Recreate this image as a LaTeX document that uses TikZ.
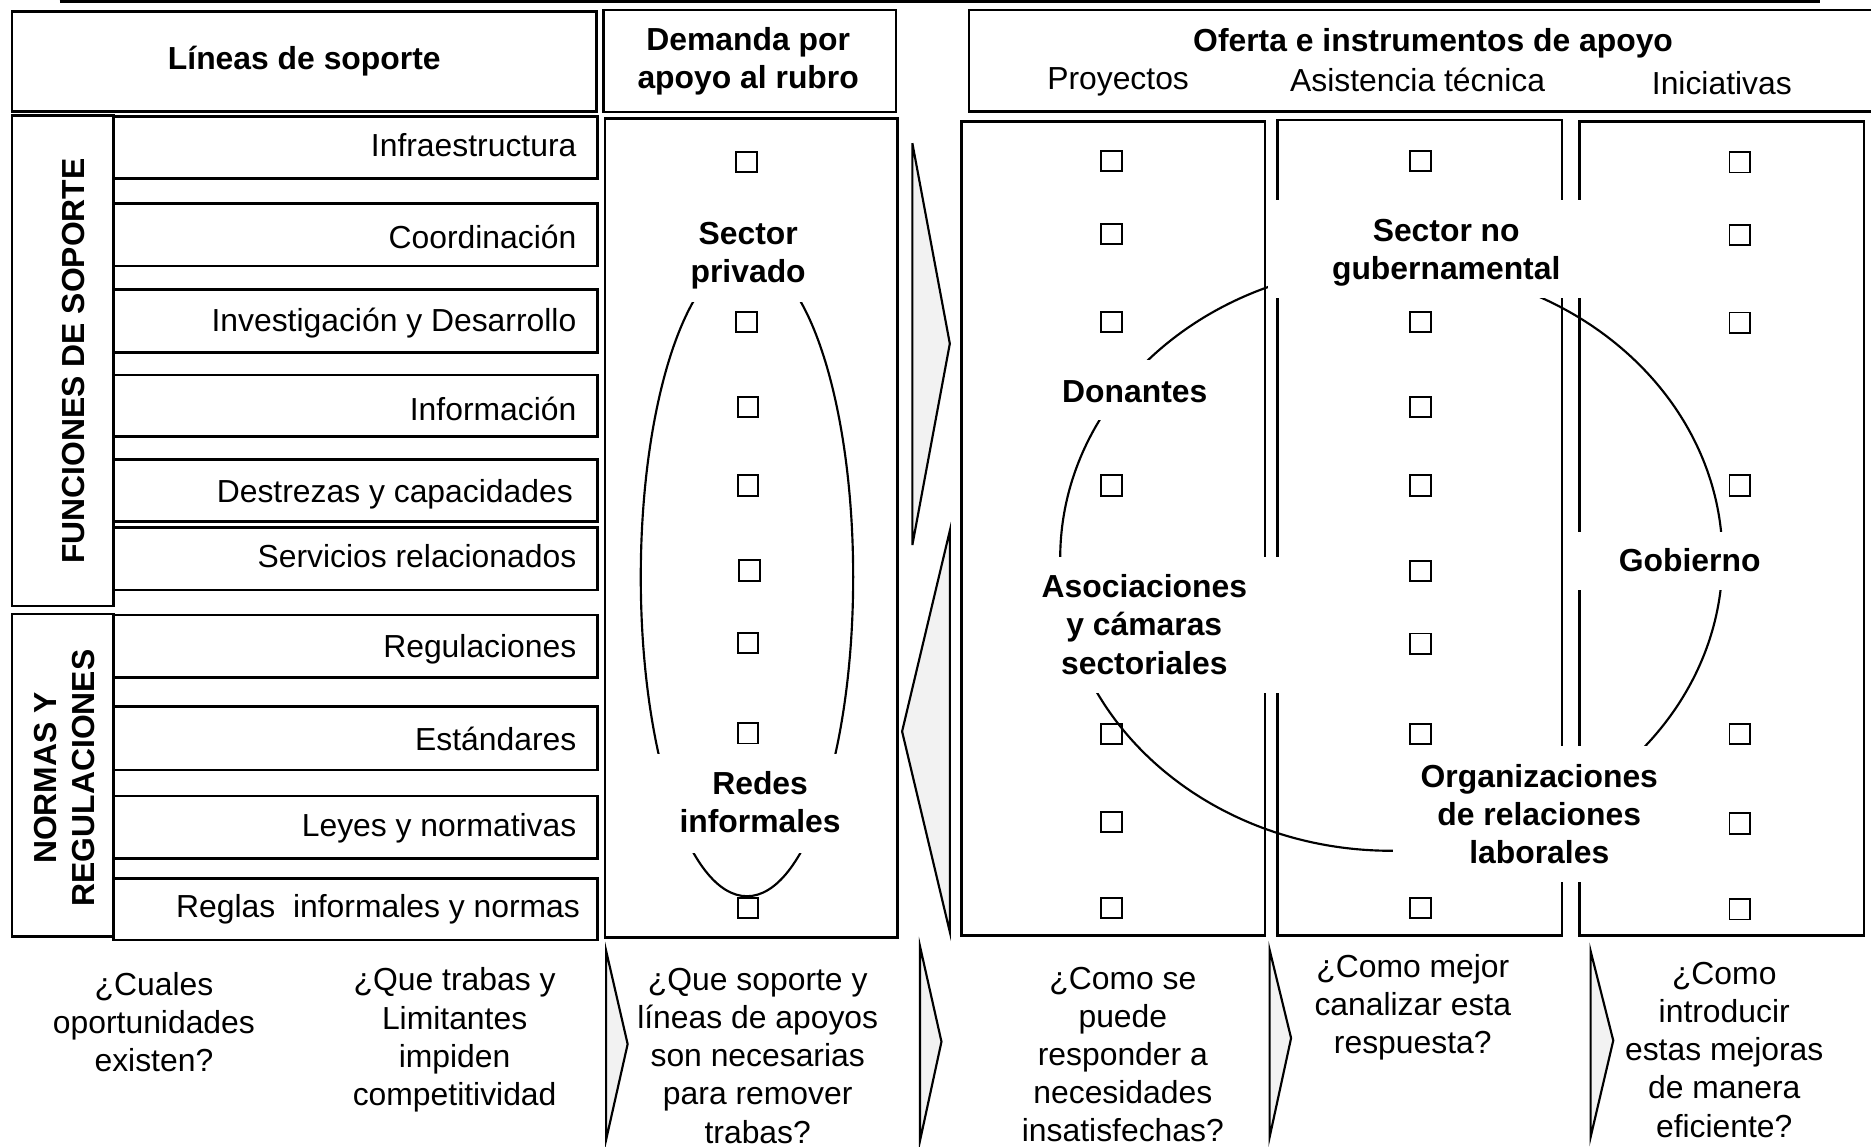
\documentclass[tikz,border=0pt]{standalone}
\usepackage{fontspec}
\setmainfont{Liberation Sans}
\usetikzlibrary{fit}
\definecolor{arrgray}{RGB}{242,242,242}
\begin{document}
\begin{tikzpicture}[x=0.5pt,y=-0.5pt,
  every node/.style={inner sep=0pt, outer sep=0pt, font=\fontsize{13.35}{16}\selectfont},
  box/.style={draw, line width=1.1pt},
  sqbox/.style={draw, line width=0.8pt, minimum size=8.6pt},
  lbl/.style={align=center, font=\fontsize{13.35}{16}\selectfont\bfseries},
  txt/.style={align=center},
  arr/.style={draw, fill=arrgray, line width=0.9pt, line join=miter},
  curve/.style={line width=0.9pt}
]
\useasboundingbox (0,0) rectangle (1568,961);

% top rule
\coordinate (ruleL) at (50,1.2);
\coordinate (ruleR) at (1525,1.2);
\draw[line width=1.1pt] (ruleL) -- (ruleR);

% header boxes
\node[box, fit={(10,9.5) (500,93.5)}] (hLineas) {};
\node[box, fit={(506,8.5) (751,94)}] (hDem) {};
\node[box, fit={(812,8.5) (1580,93.5)}] (hOf) {};

% left label columns
\node[box, fit={(10,97) (95,508)}] (cFun) {};
\node[box, fit={(10,514.6) (95,785)}] (cNor) {};

% row boxes
\foreach \nm/\ya/\yb in {r1/97.8/149.5, r2/170.4/223, r3/242.5/295.3, r4/314.3/366,
  r5/385/437, r6/442/494.5, r7/515.4/568, r8/592.3/645.3, r9/667/719.4, r10/736/787.8}
  \node[box, fit={(95,\ya) (500.5,\yb)}] (\nm) {};

% demand column and offer columns
\node[box, fit={(507,99.2) (752,785.6)}] (cDem) {};
\node[box, fit={(806,102) (1060,784)}] (cProy) {};
\node[box, fit={(1070.8,100.6) (1309,784)}] (cAsis) {};
\node[box, fit={(1323.7,102) (1562,784)}] (cInic) {};

% arrows between columns
\draw[arr] (764.6,120) -- (796,288) -- (764.6,456.8) -- cycle;
\draw[arr] (796,444.8) -- (756,613) -- (796,781) -- cycle;

% bottom chevrons
\draw[arr] (508,797) -- (526,875) -- (508,955) -- cycle;
\draw[arr] (771,793) -- (789,873) -- (771,956) -- cycle;
\draw[arr] (1064,796) -- (1082,870) -- (1064,953) -- cycle;
\draw[arr] (1333,797) -- (1352,872) -- (1333,953) -- cycle;

% ovals
\draw[curve] (626,483.6) ellipse [x radius=44.5pt, y radius=133.75pt];
\draw[curve] (1166,468) ellipse [x radius=138.75pt, y radius=122.5pt];

% white label backgrounds
\fill[white] (555,165) rectangle (700,253);
\fill[white] (545,632) rectangle (712,714.6);
\fill[white] (1063,168) rectangle (1340,250);
\fill[white] (880,302) rectangle (1022,352);
\fill[white] (866,467) rectangle (1080,581);
\fill[white] (1316,446) rectangle (1500,494.5);
\fill[white] (1167,625) rectangle (1413,739);

% squares
\foreach \x/\y [count=\i] in {625.5/135.8, 625.5/270, 627/341, 627/407, 628/478, 627/539, 627/614.5, 627/761}
  \node[sqbox] (sd\i) at (\x,\y) {};
\foreach \y [count=\i] in {135, 196, 270, 407, 615, 689, 761}
  \node[sqbox] (sp\i) at (931.5,\y) {};
\foreach \y [count=\i] in {135, 270, 341, 407, 478.5, 539.5, 615, 761}
  \node[sqbox] (sa\i) at (1190.5,\y) {};
\foreach \y [count=\i] in {136, 197, 270.5, 407, 615, 690, 762}
  \node[sqbox] (si\i) at (1458,\y) {};

% header texts
\node[lbl] (tLineas) at (255,51.6) {\strut Líneas de soporte};
\node[lbl] (tDem) at (627,51.6) {\strut Demanda por\\\strut apoyo al rubro};
\node[lbl] (tOf) at (1201,36.6) {\strut Oferta e instrumentos de apoyo};
\node (tProy) at (937,68.6) {\strut Proyectos};
\node (tAsis) at (1188,70.6) {\strut Asistencia técnica};
\node (tInic) at (1443,72.6) {\strut Iniciativas};

% vertical labels
\node[lbl, rotate=90] (tFun) at (62,302.5) {FUNCIONES DE SOPORTE};
\node[lbl, rotate=90] (tNor) at (54,652) {NORMAS Y\\REGULACIONES};

% row labels
\node[anchor=east] (l1) at (483,124.9) {\strut Infraestructura};
\node[anchor=east] (l2) at (483,201.6) {\strut Coordinación};
\node[anchor=east] (l3) at (483,271.6) {\strut Investigación y Desarrollo};
\node[anchor=east] (l4) at (483,345.6) {\strut Información};
\node[anchor=east] (l5) at (480,414.6) {\strut Destrezas y capacidades};
\node[anchor=east] (l6) at (483,469.6) {\strut Servicios relacionados};
\node[anchor=east] (l7) at (483,544.6) {\strut Regulaciones};
\node[anchor=east] (l8) at (483,622.6) {\strut Estándares};
\node[anchor=east] (l9) at (483,694.6) {\strut Leyes y normativas};
\node[anchor=east] (l10) at (486,762.6) {\strut Reglas\ \ informales y normas};

% oval labels
\node[lbl] (tSP) at (627,214.6) {\strut Sector\\\strut privado};
\node[lbl] (tRI) at (637,675.6) {\strut Redes\\\strut informales};
\node[lbl] (tSNG) at (1212,211.6) {\strut Sector no\\\strut gubernamental};
\node[lbl] (tDon) at (951,330.6) {\strut Donantes};
\node[lbl] (tAso) at (959,526.6) {\strut Asociaciones\\\strut y cámaras\\\strut sectoriales};
\node[lbl] (tGob) at (1416,472.6) {\strut Gobierno};
\node[lbl] (tOrg) at (1290,685.6) {\strut Organizaciones\\\strut de relaciones\\\strut laborales};

% bottom questions
\node[txt] (q1) at (129,859.6) {\strut ¿Cuales\\\strut oportunidades\\\strut existen?};
\node[txt] (q2) at (381,872) {\strut ¿Que trabas y\\\strut Limitantes\\\strut impiden\\\strut competitividad};
\node[txt] (q3) at (635,887.6) {\strut ¿Que soporte y\\\strut líneas de apoyos\\\strut son necesarias\\\strut para remover\\\strut trabas?};
\node[txt] (q4) at (941,886.6) {\strut ¿Como se\\\strut puede\\\strut responder a\\\strut necesidades\\\strut insatisfechas?};
\node[txt] (q5) at (1184,844.6) {\strut ¿Como mejor\\\strut canalizar esta\\\strut respuesta?};
\node[txt] (q6) at (1445,882.6) {\strut ¿Como\\\strut introducir\\\strut estas mejoras\\\strut de manera\\\strut eficiente?};
\end{tikzpicture}
\end{document}
